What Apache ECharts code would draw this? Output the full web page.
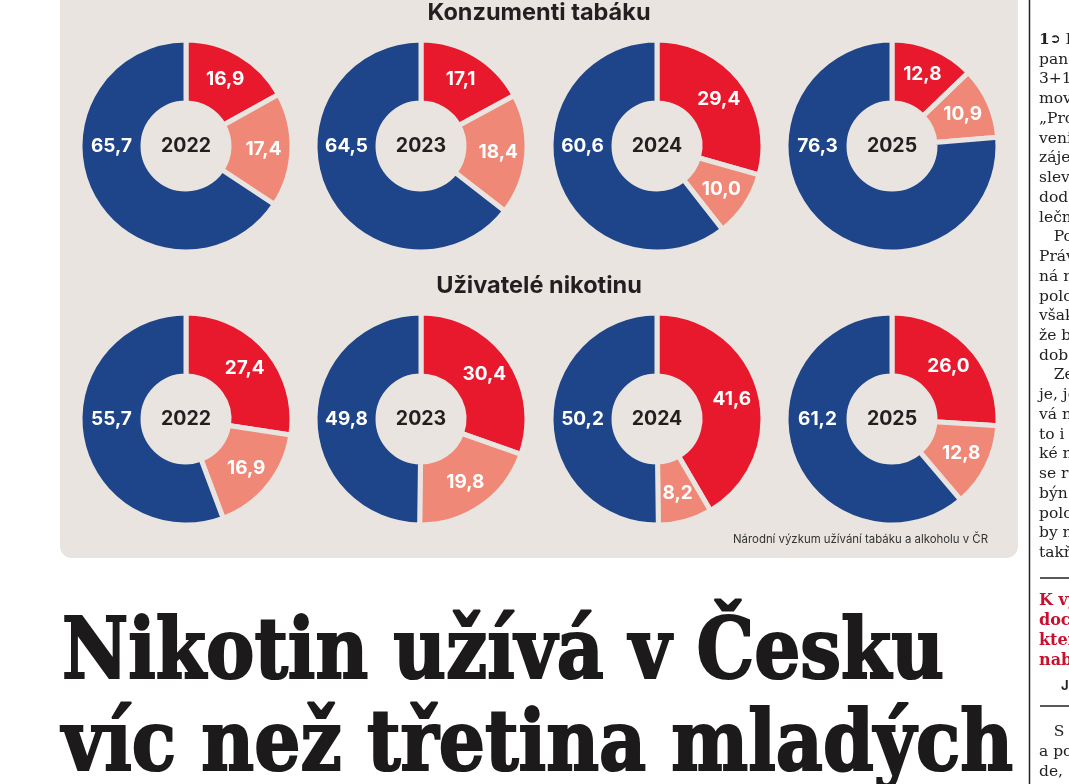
<!DOCTYPE html>
<html><head><meta charset="utf-8">
<script src="https://cdn.jsdelivr.net/npm/echarts@6/dist/echarts.min.js"></script>
<style>html,body{margin:0;padding:0;background:#fff}#c{width:1069px;height:784px}</style>
</head><body><div id="c"></div>
<script>
// ---- data ----
const years = ['2022', '2023', '2024', '2025'];
const segmentNames = ['skupina A', 'skupina B', 'ostatní'];
const tobaccoRed = [16.9, 17.1, 29.4, 12.8];
const tobaccoSalmon = [17.4, 18.4, 10.0, 10.9];
const tobaccoBlue = [65.7, 64.5, 60.6, 76.3];
const nicotineRed = [27.4, 30.4, 41.6, 26.0];
const nicotineSalmon = [16.9, 19.8, 8.2, 12.8];
const nicotineBlue = [55.7, 49.8, 50.2, 61.2];
const titleTop = 'Konzumenti tabáku';
const titleBottom = 'Uživatelé nikotinu';
const sourceText = 'Národní výzkum užívání tabáku a alkoholu v ČR';
const headline = ['Nikotin užívá v Česku', 'víc než třetina mladých'];
const sideLines = ['{b|1}{a|➲} I', 'pan', '3+1 .', 'mov', '„Pro', 'veni', 'záje', 'slev', 'dod', 'lečn',
  '   Po', 'Práv', 'ná n', 'polo', 'však', 'že b', 'dob', '   Ze', 'je, je', 'vá n', 'to i', 'ké n',
  'se ru', 'býn', 'polo', 'by n', 'takř'];
const sideRed = ['K vy', 'doc', 'kter', 'nab'];
const sideAuthor = 'Ja';
const sideBottom = ['   S', 'a po', 'de, ('];

// ---- style / layout ----
const BG = '#e9e4df';
const COLORS = ['#e8192d', '#f08877', '#1e4489'];
const colX = [186, 421, 657, 892];
const rowY = [146, 419];
const R0 = 43, R1 = 106, RMID = (R0 + R1) / 2;
const SANS = 'Inter, Roboto, sans-serif';

const fmt = v => v.toFixed(1).replace('.', ',');

const series = [];
const rows = [[tobaccoRed, tobaccoSalmon, tobaccoBlue], [nicotineRed, nicotineSalmon, nicotineBlue]];
rows.forEach((row, ri) => {
  years.forEach((y, yi) => {
    const cx = colX[yi], cy = rowY[ri];
    series.push({
      type: 'pie',
      center: [cx, cy],
      radius: [R0, R1],
      startAngle: 90,
      clockwise: true,
      silent: true,
      animation: false,
      itemStyle: { borderColor: BG, borderWidth: 5 },
      label: {
        show: true, position: 'inside', formatter: p => fmt(p.value),
        color: '#fff', fontFamily: SANS, fontWeight: 700, fontSize: 19
      },
      labelLine: { show: false },
      labelLayout: function (params) {
        if (params.dataIndex === 2) {
          return { x: cx - RMID, y: cy, align: 'center', verticalAlign: 'middle' };
        }
        return {};
      },
      data: segmentNames.map((n, k) => ({ name: n, value: row[k][yi], itemStyle: { color: COLORS[k] } }))
    });
  });
});

// measure headline for condensing
const mc = document.createElement('canvas').getContext('2d');
const HFONT = 'bold 84px "DejaVu Serif"';
mc.font = HFONT;
const hTargets = [882, 951];
const hY = [656, 748];

const graphics = [
  { type: 'rect', z: -10, shape: { x: 60, y: -20, width: 958, height: 578, r: [0, 0, 12, 12] }, style: { fill: BG } },
  { type: 'line', shape: { x1: 1029.5, y1: 0, x2: 1029.5, y2: 784 }, style: { stroke: '#222', lineWidth: 1.5 } },
  { type: 'text', x: 539, y: 13, style: { text: titleTop, font: '700 23.5px ' + SANS, fill: '#231f20', textAlign: 'center', textVerticalAlign: 'middle' } },
  { type: 'text', x: 539, y: 286, style: { text: titleBottom, font: '700 23.5px ' + SANS, fill: '#231f20', textAlign: 'center', textVerticalAlign: 'middle' } },
  { type: 'text', x: 988, y: 540, style: { text: sourceText, font: '400 11.4px ' + SANS, fill: '#333', textAlign: 'right', textVerticalAlign: 'middle' } }
];
rowY.forEach(cy => colX.forEach((cx, i) => {
  graphics.push({ type: 'text', x: cx, y: cy, style: { text: years[i], font: '700 19.5px ' + SANS, fill: '#231f20', textAlign: 'center', textVerticalAlign: 'middle' } });
}));
headline.forEach((t, i) => {
  const w = mc.measureText(t).width;
  graphics.push({
    type: 'text', x: 62, y: hY[i], scaleX: hTargets[i] / w, originX: 0, originY: 0,
    style: { text: t, x: 0, y: 0, font: HFONT, fill: '#1c1a1a', stroke: '#1c1a1a', lineWidth: 2.2, textAlign: 'left', textVerticalAlign: 'middle' }
  });
});
sideLines.forEach((t, i) => {
  graphics.push({ type: 'text', x: 1039, y: 40 + i * 19.73, style: {
    text: t, font: '15.5px "DejaVu Serif"', fill: '#222', textVerticalAlign: 'middle',
    rich: { b: { fontWeight: 'bold', fontSize: 15.5, fontFamily: 'DejaVu Serif', fill: '#222' }, a: { fontSize: 13, fontFamily: 'DejaVu Sans', fontWeight: 'bold', fill: '#222' } }
  } });
});
graphics.push({ type: 'line', shape: { x1: 1040, y1: 578, x2: 1069, y2: 578 }, style: { stroke: '#222', lineWidth: 1.5 } });
sideRed.forEach((t, i) => {
  graphics.push({ type: 'text', x: 1039, y: 601 + i * 20, style: { text: t, font: 'bold 16px "DejaVu Serif"', fill: '#c8102e', textVerticalAlign: 'middle' } });
});
graphics.push({ type: 'text', x: 1061, y: 686, style: { text: sideAuthor, font: 'bold 13px ' + SANS, fill: '#222', textVerticalAlign: 'middle' } });
graphics.push({ type: 'line', shape: { x1: 1040, y1: 706, x2: 1069, y2: 706 }, style: { stroke: '#222', lineWidth: 1.5 } });
sideBottom.forEach((t, i) => {
  graphics.push({ type: 'text', x: 1039, y: 732 + i * 20, style: { text: t, font: '15.5px "DejaVu Serif"', fill: '#222', textVerticalAlign: 'middle' } });
});

const chart = echarts.init(document.getElementById('c'), null, { renderer: 'canvas' });
chart.setOption({
  backgroundColor: '#fff',
  animation: false,
  series: series,
  graphic: { elements: graphics }
});
</script></body></html>
